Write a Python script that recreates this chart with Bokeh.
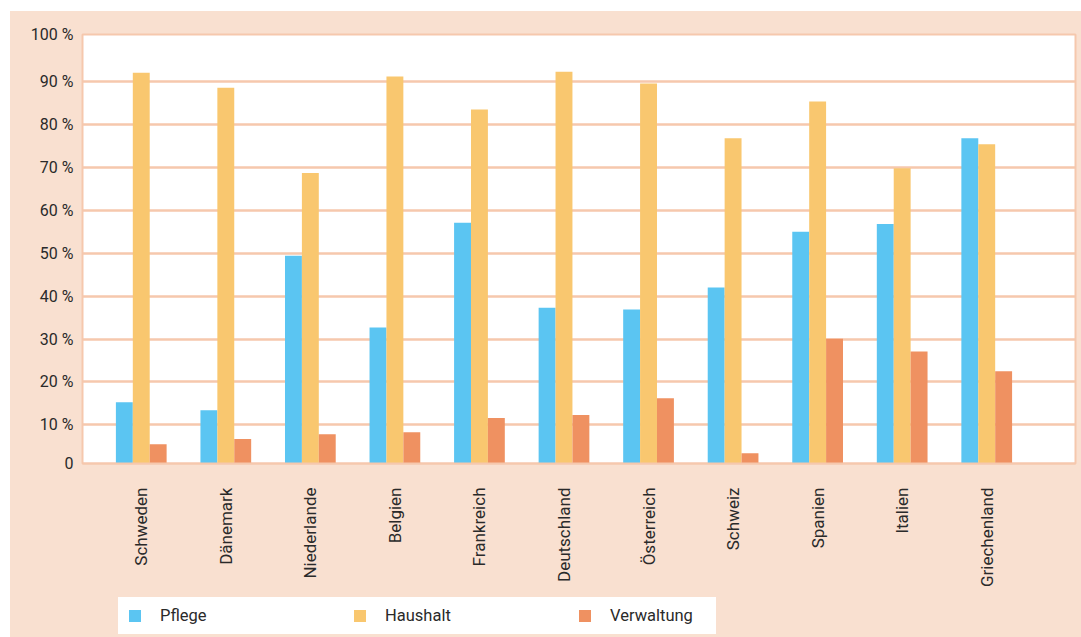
import math
from bokeh.plotting import figure
from bokeh.models import ColumnDataSource, Range1d, FixedTicker
from bokeh.layouts import column
from bokeh.transform import dodge
from bokeh.embed import file_html
from bokeh.resources import INLINE

# ---------------- data ----------------
countries = ["Schweden", "Dänemark", "Niederlande", "Belgien", "Frankreich",
             "Deutschland", "Österreich", "Schweiz", "Spanien", "Italien",
             "Griechenland"]
pflege = [15.3, 13.4, 49.4, 32.7, 57.1, 37.3, 36.9, 42.0, 55.0, 56.8, 76.8]
haushalt = [92.1, 88.6, 68.7, 91.2, 83.5, 92.3, 89.6, 76.8, 85.4, 69.8, 75.4]
verwaltung = [5.5, 6.7, 7.8, 8.3, 11.6, 12.3, 16.2, 3.4, 30.1, 27.1, 22.5]
series_names = ["Pflege", "Haushalt", "Verwaltung"]
y_tick_values = [0, 10, 20, 30, 40, 50, 60, 70, 80, 90, 100]
y_tick_labels = ["0", "10 %", "20 %", "30 %", "40 %", "50 %", "60 %",
                 "70 %", "80 %", "90 %", "100 %"]

# ---------------- style ----------------
FONT = "Roboto"
PINK_BG = "#F9E0D0"
GRID = "#F6C8AD"
TEXT = "#2a2a2a"
COLORS = ["#5BC5F2", "#F9C76F", "#EF9161"]
Y_LO, Y_HI = 1, 101

idx = list(range(len(countries)))
src = ColumnDataSource(dict(idx=idx, Pflege=pflege, Haushalt=haushalt,
                            Verwaltung=verwaltung))

p = figure(width=1071, height=579, output_backend="svg", toolbar_location=None,
           x_range=Range1d(-0.695, 11.05), y_range=Range1d(Y_LO, Y_HI),
           min_border_left=72, min_border_top=23, min_border_right=6,
           min_border_bottom=125)
p.background_fill_color = "white"
p.border_fill_color = PINK_BG
p.outline_line_color = GRID
p.outline_line_width = 2

offsets = [-0.2, 0.0, 0.2]
for name, col, off in zip(series_names, COLORS, offsets):
    p.vbar(x=dodge("idx", off), top=name, bottom=0, width=0.2, source=src,
           fill_color=col, line_color=None)

# y axis
tick_pos = [Y_LO if v == 0 else (Y_HI if v == 100 else v) for v in y_tick_values]
p.yaxis.ticker = FixedTicker(ticks=tick_pos)
p.yaxis.major_label_overrides = {t: l for t, l in zip(tick_pos, y_tick_labels)}
p.yaxis.axis_line_color = None
p.yaxis.major_tick_line_color = None
p.yaxis.minor_tick_line_color = None
p.yaxis.major_label_standoff = 3
p.yaxis.major_label_text_font = FONT
p.yaxis.major_label_text_font_size = "16px"
p.yaxis.major_label_text_color = TEXT
p.ygrid.ticker = FixedTicker(ticks=tick_pos)
p.ygrid.grid_line_color = GRID
p.ygrid.grid_line_width = 2.5
p.xgrid.grid_line_color = None

# x axis
p.xaxis.ticker = FixedTicker(ticks=idx)
p.xaxis.major_label_overrides = {i: c for i, c in zip(idx, countries)}
p.xaxis.major_label_orientation = math.pi / 2
p.xaxis.axis_line_color = GRID
p.xaxis.axis_line_width = 2
p.xaxis.major_tick_line_color = None
p.xaxis.minor_tick_line_color = None
p.xaxis.major_label_standoff = 18
p.xaxis.major_label_text_font = FONT
p.xaxis.major_label_text_font_size = "17px"
p.xaxis.major_label_text_color = TEXT

# legend strip below the chart (its bars lie outside its visible range)
pl = figure(width=1071, height=47, output_backend="svg", toolbar_location=None,
            x_range=Range1d(-0.695, 11.05), y_range=Range1d(500, 501),
            x_axis_type=None, y_axis_type=None,
            min_border_left=72, min_border_right=6,
            min_border_top=0, min_border_bottom=0)
pl.background_fill_color = PINK_BG
pl.border_fill_color = PINK_BG
pl.outline_line_color = None
pl.xgrid.grid_line_color = None
pl.ygrid.grid_line_color = None
for name, col, off in zip(series_names, COLORS, offsets):
    pl.vbar(x=dodge("idx", off), top=name, bottom=0, width=0.2, source=src,
            fill_color=col, line_color=None, legend_label=name)

lg = pl.legend[0]
lg.orientation = "horizontal"
lg.location = (36, 3)
lg.background_fill_color = "white"
lg.background_fill_alpha = 1
lg.border_line_color = "white"
lg.border_line_width = 1
lg.padding = 8
lg.margin = 0
lg.glyph_width = 15
lg.glyph_height = 15
lg.label_standoff = 18
lg.label_width = 97
lg.spacing = 95
lg.label_text_font = FONT
lg.label_text_font_size = "16.5px"
lg.label_text_color = TEXT

layout = column(p, pl, spacing=0, margin=(11, 0, 0, 10),
                styles={"background-color": PINK_BG})
open("out.html", "w").write(file_html(layout, INLINE))
